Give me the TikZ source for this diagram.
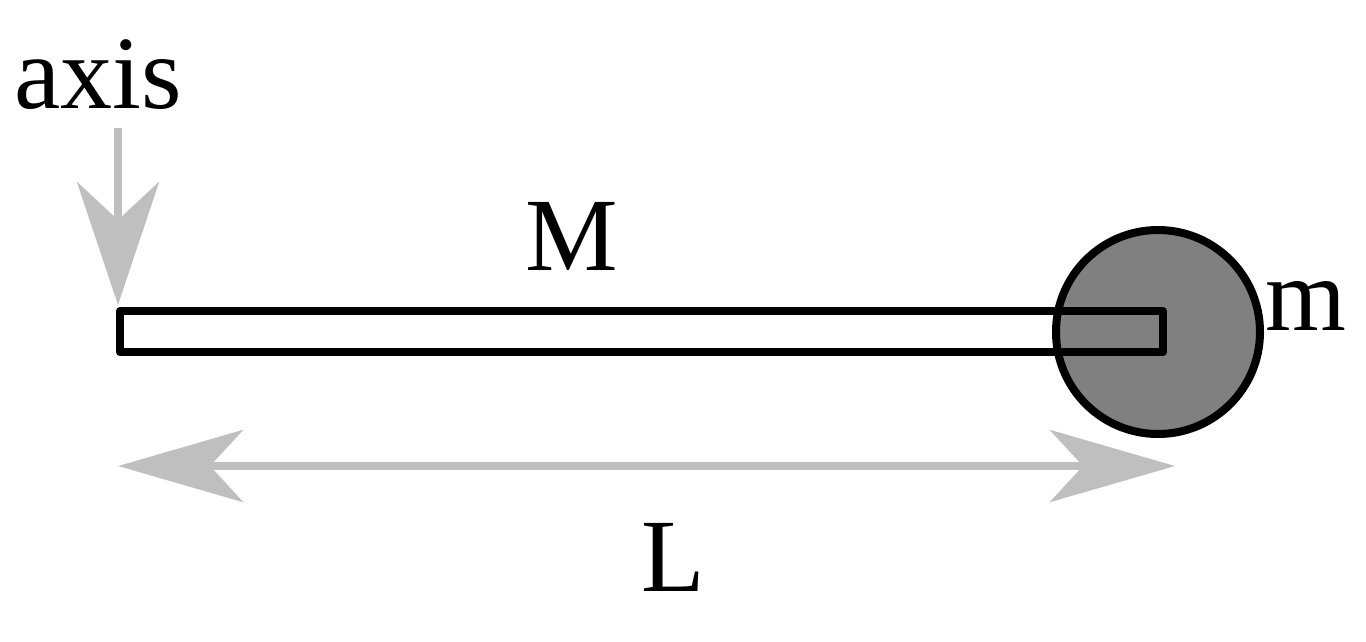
\documentclass[tikz,border=0pt]{standalone}
\usepackage{fontspec}
\setmainfont{Liberation Serif}
\usetikzlibrary{arrows.meta}
\definecolor{arrowgray}{HTML}{BFBFBF}
\definecolor{massgray}{HTML}{808080}
\tikzset{
  lbl/.style={inner sep=0pt, anchor=base, font=\fontsize{104}{120}\selectfont},
  grayarrow/.style={draw=arrowgray, line width=8pt},
  outline/.style={draw=black, line width=8pt, line join=round}
}
\begin{document}
\begin{tikzpicture}[x=1pt, y=-1pt]
\useasboundingbox (0,0) rectangle (1366,641);
% rod fill
\fill[white] (120,311) rectangle (1163,352);
% mass
\node[outline, fill=massgray, circle, minimum size=204pt, inner sep=0pt] (mass) at (1158,332) {};
% rod outline
\draw[outline] (120,311) rectangle (1163,352);
\coordinate (rodL) at (120,331);
% labels
\node[lbl] (axislbl) at (98,108) {axis};
\node[lbl] (Mlbl) at (572,270) {M};
\node[lbl] (mlbl) at (1306,330) {m};
\node[lbl] (Llbl) at (673,591) {L};
% axis arrow
\coordinate (axtop) at (118,128);
\coordinate (axtip) at (118,305);
\draw[grayarrow, -{Stealth[length=123pt, width=82pt, inset=38pt, fill=arrowgray]}] (axtop) -- (axtip);
% L arrow
\coordinate (La) at (118,466);
\coordinate (Lb) at (1175,466);
\draw[grayarrow, {Stealth[length=125pt, width=72pt, inset=33pt, fill=arrowgray]}-{Stealth[length=125pt, width=72pt, inset=33pt, fill=arrowgray]}] (La) -- (Lb);
\end{tikzpicture}
\end{document}
